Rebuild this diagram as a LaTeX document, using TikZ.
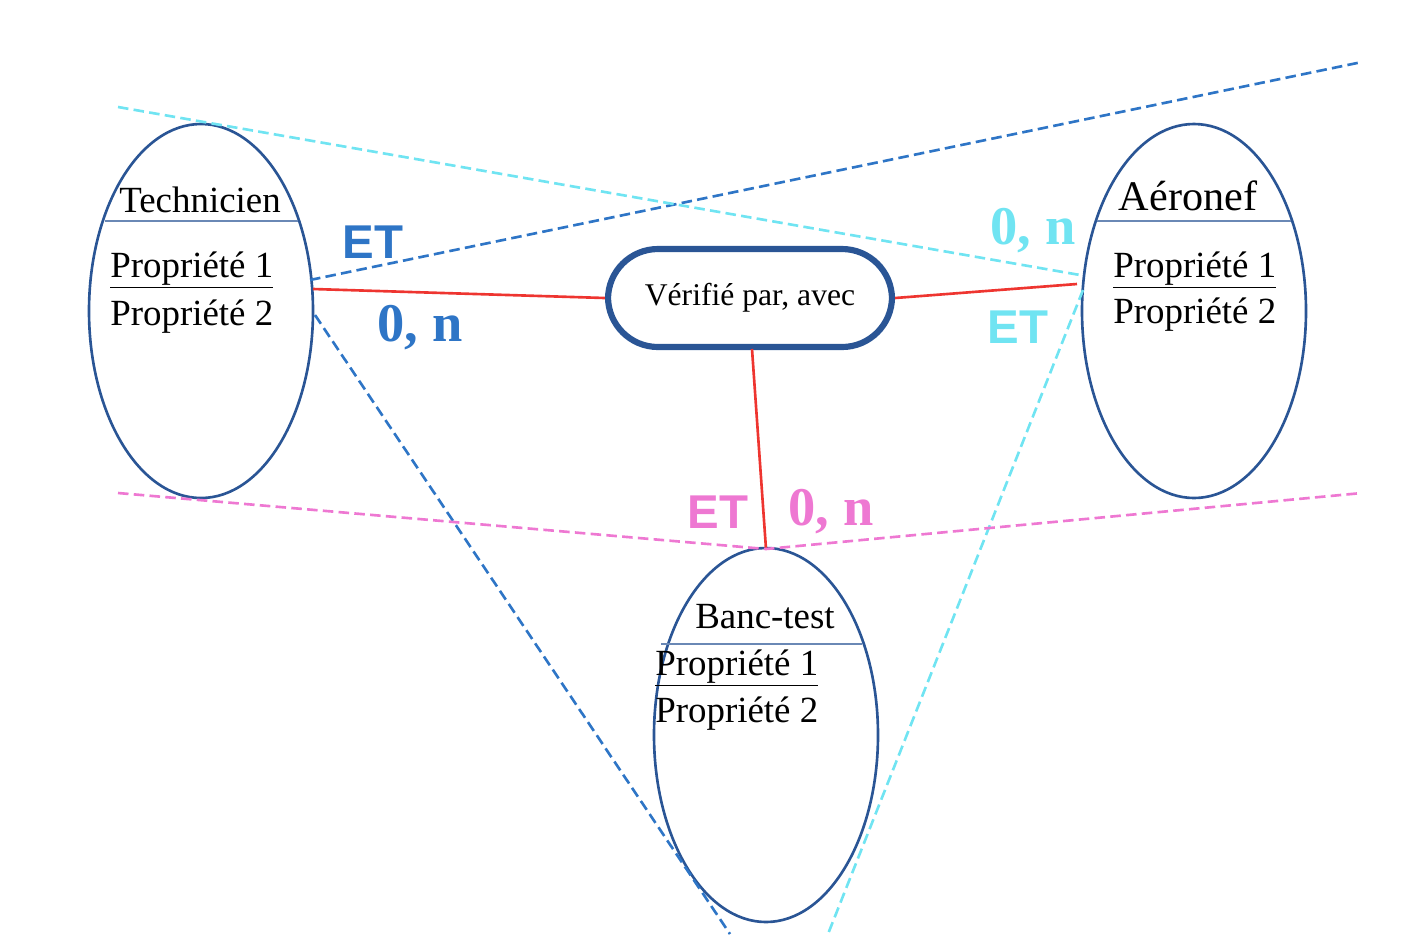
\documentclass[tikz,border=0pt]{standalone}
\usepackage{fontspec}
\setmainfont{Liberation Serif}
\setsansfont{Liberation Sans}
\usetikzlibrary{shapes.geometric}
\definecolor{ovalblue}{HTML}{2A5595}
\definecolor{dblue}{HTML}{2E75C6}
\definecolor{cyanl}{HTML}{70E4F2}
\definecolor{pinkl}{HTML}{EE78D2}
\definecolor{redl}{HTML}{EE3530}
\tikzset{
  entity/.style={ellipse, draw=ovalblue, line width=1.5pt, minimum width=224*0.02cm, minimum height=374*0.02cm, inner sep=0pt},
  assoc/.style={rectangle, rounded corners=1cm, draw=ovalblue, line width=3.5pt, minimum width=284*0.02cm, minimum height=98*0.02cm, font=\fontsize{18}{21}\selectfont},
  prop/.style={anchor=west, inner sep=0pt, font=\fontsize{21}{24}\selectfont},
  title/.style={inner sep=0pt, font=\fontsize{21}{24}\selectfont},
  link/.style={redl, line width=1.5pt},
  constraint/.style={dash pattern=on 6pt off 3pt, line width=1.5pt},
  card/.style={inner sep=0pt, font=\fontsize{31}{34}\selectfont\bfseries},
  et/.style={inner sep=0pt, font=\sffamily\fontsize{27}{30}\selectfont\bfseries}
}
\begin{document}
\begin{tikzpicture}[x=0.02cm, y=-0.02cm]
\useasboundingbox (0,0) rectangle (1416,934);
% dashed constraint lines
\coordinate (b1) at (1362,62);
\coordinate (b2) at (730,934);
\coordinate (c1) at (118,107);
\coordinate (c2) at (828,934);
\coordinate (p1) at (118,493);
\coordinate (p2) at (1362,493);
% entities
\node[entity] (tech) at (201,311) {};
\node[entity] (aero) at (1194,311) {};
\node[entity] (banc) at (766,735) {};
\node[assoc] (verif) at (750,298) {Vérifié par, avec};
\draw[ovalblue!70, line width=0.6pt] (105,221) -- (298,221) (1097,221) -- (1291,221) (661,644) -- (862,644);
\node[title] (ttech) at (200,200) {Technicien};
\node[title, font=\fontsize{24}{28}\selectfont] (taero) at (1188,196) {Aéronef};
\node[title] (tbanc) at (765,617) {Banc-test};
\node[prop] (tp1) at (110,270) {\underline{Propriété 1}};
\node[prop] (tp2) at (110,317) {Propriété 2};
\node[prop] (ap1) at (1113,270) {\underline{Propriété 1}};
\node[prop] (ap2) at (1113,315) {Propriété 2};
\node[prop] (bp1) at (655,668) {\underline{Propriété 1}};
\node[prop] (bp2) at (655,714) {Propriété 2};
% links
\coordinate (tr) at (313,289);
\coordinate (al) at (1077,284);
\coordinate (bt) at (766,549);
\draw[link] (tr) -- (verif.west);
\draw[link] (verif.east) -- (al);
\draw[link] (752,349) -- (bt);
\draw[dblue, constraint] (310,280) -- (b1) (315,315) -- (b2);
\draw[cyanl, constraint] (c1) -- (1080,275) (1083,290) -- (c2);
\draw[pinkl, constraint] (p1) -- (bt) -- (p2);
% cardinalities
\node[et, dblue] (et1) at (373,242) {ET};
\node[card, dblue] (n1) at (420,328) {0, n};
\node[card, cyanl] (n2) at (1033,231) {0, n};
\node[et, cyanl] (et2) at (1018,327) {ET};
\node[et, pinkl] (et3) at (718,512) {ET};
\node[card, pinkl] (n3) at (831,512) {0, n};
\end{tikzpicture}
\end{document}
